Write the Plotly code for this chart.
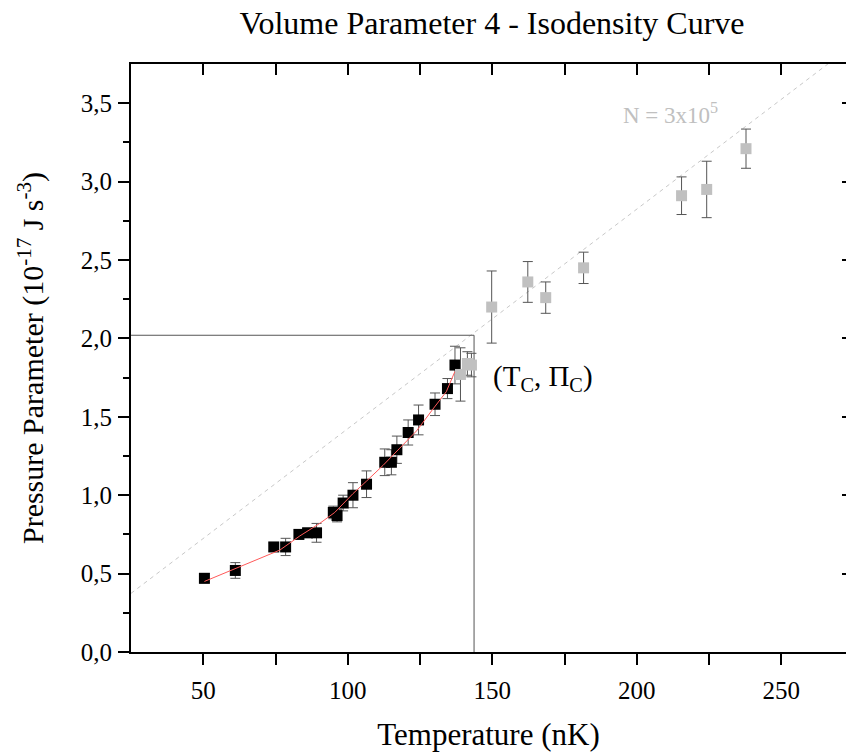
import plotly.graph_objects as go

# ---- data ----
black_T = [50.4, 61.1, 74.4, 78.5, 83.1, 86.1, 89.2, 95.0, 96.3, 98.4, 101.8, 106.5,
           112.8, 115.1, 117.0, 120.9, 124.5, 130.2, 134.5, 137.1]
black_P = [0.47, 0.52, 0.67, 0.67, 0.75, 0.76, 0.76, 0.89, 0.87, 0.95, 1.00, 1.07,
           1.21, 1.21, 1.29, 1.40, 1.48, 1.58, 1.68, 1.83]
black_err = [0.03, 0.05, 0.025, 0.055, 0.03, 0.03, 0.06, 0.04, 0.04, 0.05, 0.08, 0.085,
             0.085, 0.08, 0.087, 0.08, 0.095, 0.072, 0.064, 0.12]

gray_T = [139.0, 141.4, 142.8, 149.8, 162.3, 168.5, 181.6, 215.5, 224.2, 237.8]
gray_P = [1.77, 1.84, 1.83, 2.20, 2.36, 2.26, 2.45, 2.91, 2.95, 3.21]
gray_err = [0.17, 0.075, 0.075, 0.23, 0.13, 0.10, 0.10, 0.12, 0.18, 0.125]

fit_T = [50.4, 60.9, 76.5, 83.4, 90.3, 95.5, 101.8, 106.5, 112.2, 118.0, 123.8, 129.5, 134.1, 137.1]
fit_P = [0.45, 0.53, 0.65, 0.74, 0.82, 0.89, 1.01, 1.09, 1.19, 1.30, 1.41, 1.55, 1.66, 1.79]

iso_T = [25.0, 272.4]
iso_P = [0.374, 3.838]

Tc = 143.7
Pc = 2.02
crit_T = [25.0, Tc, Tc]
crit_P = [Pc, Pc, 0.0]

x_ticks = [50, 100, 150, 200, 250]
x_minor = [75, 125, 175, 225]
y_ticks = [0, 0.5, 1.0, 1.5, 2.0, 2.5, 3.0, 3.5]
y_minor = [0.25, 0.75, 1.25, 1.75, 2.25, 2.75, 3.25]

x_range = [25, 272.4]
y_range = [0, 3.75]

FONT = "Liberation Serif"

fig = go.Figure()

fig.add_trace(go.Scatter(x=iso_T, y=iso_P, mode="lines",
                         line=dict(color="#c8c8c8", width=1, dash="4px,4px"),
                         hoverinfo="skip", showlegend=False))
fig.add_trace(go.Scatter(x=crit_T, y=crit_P, mode="lines",
                         line=dict(color="#555555", width=1),
                         hoverinfo="skip", showlegend=False))
fig.add_trace(go.Scatter(x=black_T, y=black_P, mode="markers",
                         marker=dict(symbol="square", size=11, color="black",
                                     line=dict(width=0)),
                         error_y=dict(type="data", array=black_err, visible=True,
                                      color="#555555", thickness=1, width=5),
                         showlegend=False))
fig.add_trace(go.Scatter(x=fit_T, y=fit_P, mode="lines",
                         line=dict(color="#ff5a5a", width=1),
                         hoverinfo="skip", showlegend=False))
fig.add_trace(go.Scatter(x=gray_T, y=gray_P, mode="markers",
                         marker=dict(symbol="square", size=11, color="#c0c0c0",
                                     line=dict(width=0)),
                         error_y=dict(type="data", array=gray_err, visible=True,
                                      color="#555555", thickness=1, width=5),
                         showlegend=False))
# dummy trace for the mirrored axes
fig.add_trace(go.Scatter(x=[None], y=[None], xaxis="x2", yaxis="y2",
                         mode="markers", showlegend=False, hoverinfo="skip"))

tickfont = dict(family=FONT, size=25, color="black")

fig.update_layout(
    width=846, height=756,
    margin=dict(l=131, r=0, t=64, b=104),
    paper_bgcolor="white", plot_bgcolor="white",
    separators=",.",
    font=dict(family=FONT, color="black"),
    title=dict(text="Volume Parameter 4 - Isodensity Curve",
               font=dict(family=FONT, size=32, color="black"),
               x=(131 + 853) / 2 / 846, xanchor="center",
               y=1 - 23 / 756, yanchor="middle", yref="container"),
    xaxis=dict(range=x_range, showgrid=False, zeroline=False,
               showline=True, linecolor="black", linewidth=2,
               ticks="outside", ticklen=11, tickwidth=2, tickcolor="black",
               tickvals=x_ticks,
               minor=dict(tickvals=x_minor, ticks="outside", ticklen=11,
                          tickwidth=2, tickcolor="black"),
               tickfont=tickfont, ticklabelstandoff=4,
               title=dict(text="Temperature (nK)",
                          font=dict(family=FONT, size=31, color="black"),
                          standoff=20)),
    yaxis=dict(range=y_range, showgrid=False, zeroline=False,
               showline=True, linecolor="black", linewidth=2,
               ticks="outside", ticklen=11, tickwidth=2, tickcolor="black",
               tickvals=y_ticks, tickformat=".1f",
               minor=dict(tickvals=y_minor,
                          ticks="outside", ticklen=6, tickwidth=2, tickcolor="black"),
               tickfont=tickfont, ticklabelstandoff=1,
               title=dict(text="Pressure Parameter (10<sup>-17</sup> J s<sup>-3</sup>)",
                          font=dict(family=FONT, size=30, color="black"),
                          standoff=28)),
    xaxis2=dict(range=x_range, overlaying="x", side="top", showgrid=False,
                zeroline=False, showline=True, linecolor="black", linewidth=2,
                ticks="inside", ticklen=11, tickwidth=2, tickcolor="black",
                tickvals=x_ticks + x_minor,
                showticklabels=False),
    yaxis2=dict(range=y_range, overlaying="y", side="right", showgrid=False,
                zeroline=False, showline=False,
                ticks="inside", ticklen=4, tickwidth=2, tickcolor="black",
                tickvals=y_ticks[1:],
                showticklabels=False),
    annotations=[
        dict(x=149.5, y=1.745, xref="x", yref="y", xanchor="left", yanchor="middle",
             text="(T<sub>C</sub>, Π<sub>C</sub>)", showarrow=False,
             font=dict(family=FONT, size=29, color="black")),
        dict(x=194.6, y=3.434, xref="x", yref="y", xanchor="left", yanchor="middle",
             text="N = 3x10<sup>5</sup>", showarrow=False,
             font=dict(family=FONT, size=23, color="#c0c0c0")),
    ],
)

fig.write_html("out.html")
